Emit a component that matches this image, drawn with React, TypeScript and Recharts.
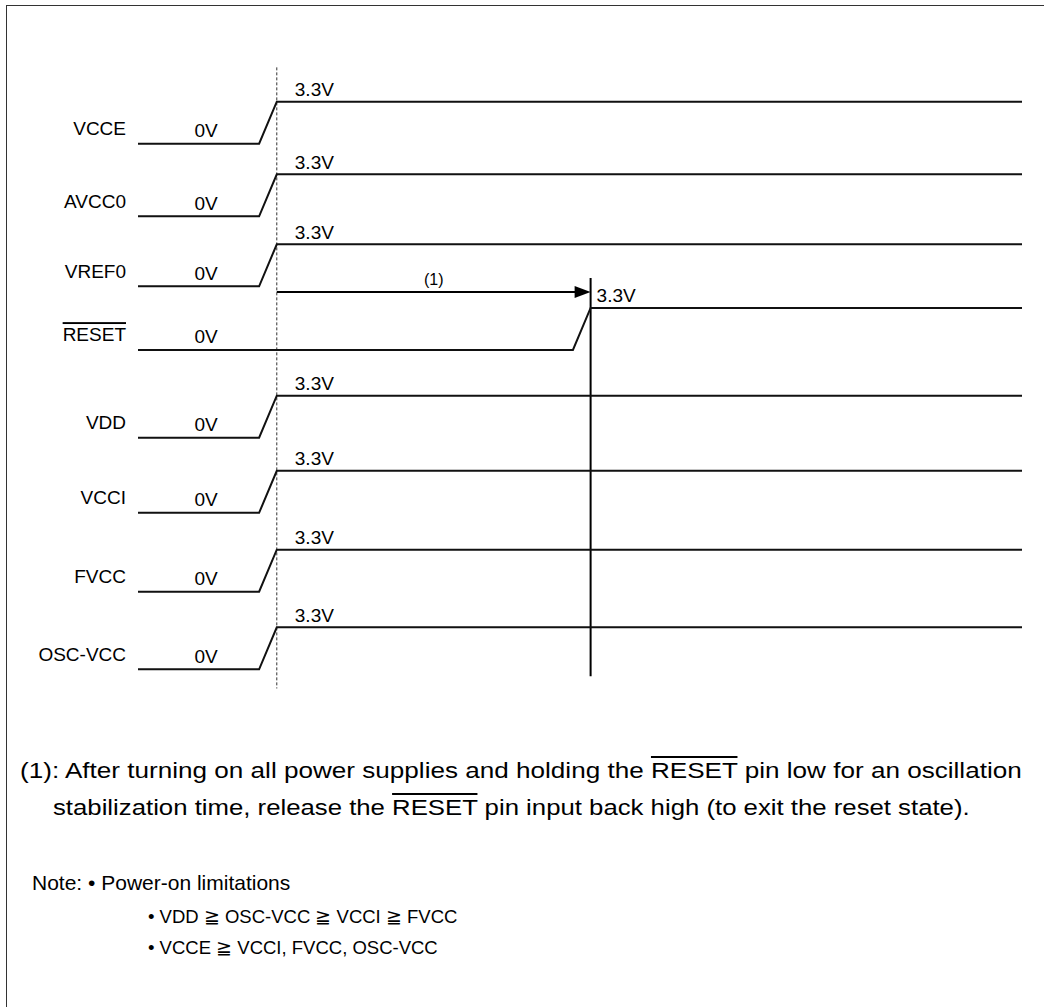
import React from 'react';
import { ComposedChart, Line, XAxis, YAxis, ReferenceLine } from 'recharts';

// signal names, top to bottom
const signals = ['VCCE', 'AVCC0', 'VREF0', 'RESET', 'VDD', 'VCCI', 'FVCC', 'OSC-VCC'];
// 0V level of each lane, measured in volts above the OSC-VCC lane
const laneBase = [41.3, 35.6, 30.1, 25.1, 18.2, 12.3, 6.1, 0];
// time (arbitrary units) where each signal starts and ends its rise
const riseStart = [13.7, 13.7, 13.7, 49.2, 13.7, 13.7, 13.7, 13.7];
const riseEnd = [15.7, 15.7, 15.7, 51.2, 15.7, 15.7, 15.7, 15.7];
const tStart = 0;
const tEnd = 100;
const lowLevel = 0;
const highLevel = 3.3;
const lowText = '0V';
const highText = '3.3V';

const powerOn = 15.7;
const resetRelease = 51.2;

const FONT = '"Liberation Sans", Arial, sans-serif';

const nameTicks = laneBase.map(b => b + 1.2);

const SignalTick = (props: any) => {
  const { x, y, payload } = props;
  const i = nameTicks.indexOf(payload.value);
  const name = signals[i];
  return (
    <text x={x} y={y} textAnchor="end" dominantBaseline="central" fontSize={19} fontFamily={FONT} fill="#000"
      style={name === 'RESET' ? { textDecoration: 'overline' } : undefined}>
      {name}
    </text>
  );
};

const ArrowShape = (props: any) => {
  const { x1, y1, x2, y2 } = props;
  return (
    <g>
      <line x1={x1} y1={y1} x2={x2 - 14} y2={y2} stroke="#000" strokeWidth={2} />
      <polygon points={`${x2},${y2} ${x2 - 16},${y2 - 6} ${x2 - 16},${y2 + 6}`} fill="#000" />
    </g>
  );
};

const noteLine = (left: number, top: number, size: number, scale: number): React.CSSProperties => ({
  position: 'absolute', left, top, fontSize: size, lineHeight: '26px', color: '#000', whiteSpace: 'nowrap',
  transform: `scaleX(${scale})`, transformOrigin: 'left center',
});

export default function App() {
  const series = signals.map((name, i) => ({
    name,
    points: [
      { t: tStart, v: laneBase[i] + lowLevel },
      { t: riseStart[i], v: laneBase[i] + lowLevel },
      { t: riseEnd[i], v: laneBase[i] + highLevel },
      { t: tEnd, v: laneBase[i] + highLevel },
    ],
  }));

  const levelLabel = (isReset: boolean) => (p: any) => {
    if (p.index === 0) {
      return (
        <text x={p.x + 68} y={p.y - 13} textAnchor="middle" dominantBaseline="central" fontSize={19} fontFamily={FONT} fill="#000">
          {lowText}
        </text>
      );
    }
    if (p.index === 2) {
      return (
        <text x={p.x + (isReset ? 6 : 18)} y={p.y - 12} textAnchor="start" dominantBaseline="central" fontSize={19} fontFamily={FONT} fill="#000">
          {highText}
        </text>
      );
    }
    return null;
  };

  return (
    <div style={{ position: 'relative', width: 1044, height: 1007, overflow: 'hidden', background: '#fff', fontFamily: FONT }}>
      <style>{'body{margin:0}'}</style>
      <div style={{ position: 'absolute', left: 6, top: 5, width: 1060, height: 1020, border: '1px solid #333' }} />
      <div style={{ position: 'absolute', left: 0, top: 0 }}>
        <ComposedChart width={1044} height={733} margin={{ top: 33, right: 22, bottom: 0, left: 0 }}>
          <XAxis dataKey="t" type="number" domain={[tStart, tEnd]} hide allowDataOverflow />
          <YAxis type="number" domain={[-5, 50]} ticks={nameTicks} interval={0} width={138}
            axisLine={false} tickLine={false} tickSize={0} tickMargin={12} tick={<SignalTick />} allowDataOverflow />
          <ReferenceLine segment={[{ x: powerOn, y: laneBase[0] + highLevel + 2.7 }, { x: powerOn, y: -1.5 }]}
            stroke="#333" strokeWidth={1} strokeDasharray="3 2" ifOverflow="visible" />
          <ReferenceLine segment={[{ x: resetRelease, y: 30.75 }, { x: resetRelease, y: -0.55 }]}
            stroke="#000" strokeWidth={2} ifOverflow="visible" />
          <ReferenceLine segment={[{ x: powerOn, y: 29.65 }, { x: resetRelease, y: 29.65 }]}
            shape={<ArrowShape />} ifOverflow="visible"
            label={{ value: '(1)', position: 'top', offset: 7, fontSize: 16, fill: '#000', fontFamily: FONT }} />
          {series.map((s) => (
            <Line key={s.name} data={s.points} dataKey="v" type="linear" stroke="#111" strokeWidth={2}
              dot={false} activeDot={false} isAnimationActive={false}
              label={levelLabel(s.name === 'RESET')} />
          ))}
        </ComposedChart>
      </div>
      <div style={noteLine(20, 758, 22, 1.186)}>
        (1): After turning on all power supplies and holding the <span style={{ textDecoration: 'overline' }}>RESET</span> pin low for an oscillation
      </div>
      <div style={noteLine(53, 795, 22, 1.17)}>
        stabilization time, release the <span style={{ textDecoration: 'overline' }}>RESET</span> pin input back high (to exit the reset state).
      </div>
      <div style={noteLine(32, 870, 21, 1)}>
        Note: • Power-on limitations
      </div>
      <div style={noteLine(148, 904, 18.5, 1)}>
        • VDD ≧ OSC-VCC ≧ VCCI ≧ FVCC
      </div>
      <div style={noteLine(148, 935, 18.5, 1)}>
        • VCCE ≧ VCCI, FVCC, OSC-VCC
      </div>
    </div>
  );
}
